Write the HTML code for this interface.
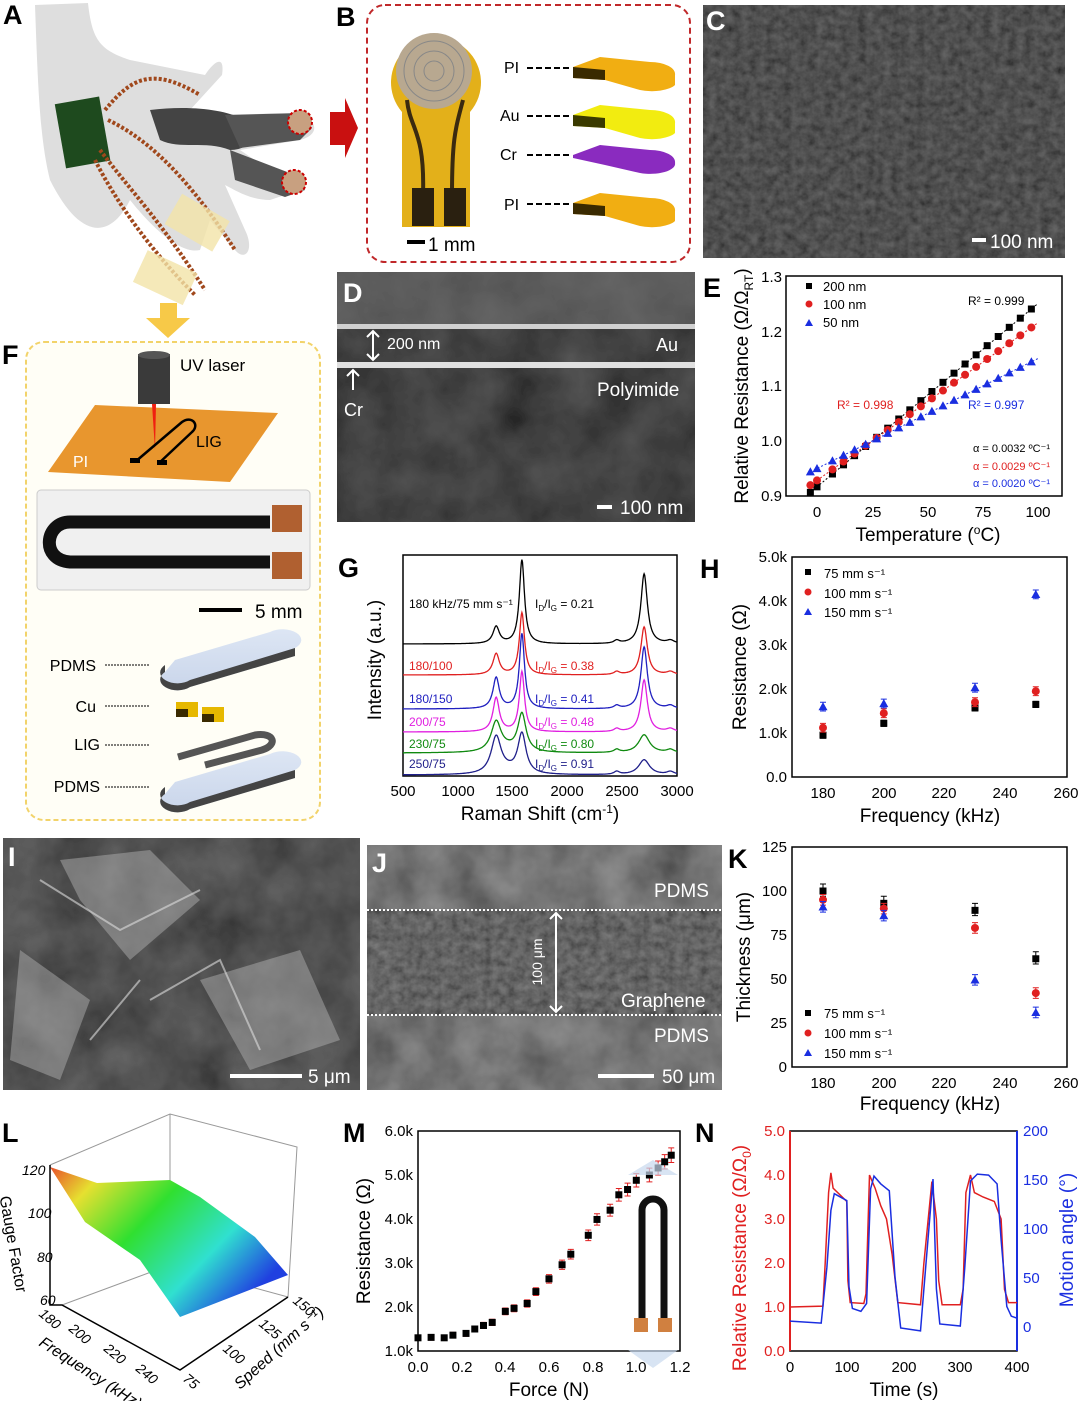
<!DOCTYPE html>
<html><head><meta charset="utf-8">
<style>
html,body{margin:0;padding:0;background:#fff;}
svg{display:block;font-family:"Liberation Sans",Arial,sans-serif;}
.pl{font-weight:bold;font-size:27px;fill:#000}
.tk{font-size:15px}
.al{font-size:19px}
</style></head><body>
<svg id="s" width="1080" height="1401" viewBox="0 0 1080 1401" xmlns="http://www.w3.org/2000/svg">
<defs>
<filter id="n1" x="0" y="0" width="100%" height="100%"><feTurbulence type="fractalNoise" baseFrequency="0.12" numOctaves="3" seed="3"/><feColorMatrix type="saturate" values="0"/><feComponentTransfer><feFuncA type="linear" slope="0" intercept="1"/></feComponentTransfer><feBlend in2="SourceGraphic" mode="multiply"/></filter>
<filter id="n2" x="0" y="0" width="100%" height="100%"><feTurbulence type="fractalNoise" baseFrequency="0.02" numOctaves="4" seed="7"/><feColorMatrix type="saturate" values="0"/><feComponentTransfer><feFuncA type="linear" slope="0" intercept="1"/></feComponentTransfer><feBlend in2="SourceGraphic" mode="multiply"/></filter>
<linearGradient id="gs" x1="0" y1="0" x2="1" y2="0.6"><stop offset="0" stop-color="#e8502a"/><stop offset="0.18" stop-color="#e6e030"/><stop offset="0.45" stop-color="#30e030"/><stop offset="0.75" stop-color="#30e0d0"/><stop offset="1" stop-color="#2040e0"/></linearGradient>
<linearGradient id="pd" x1="0" y1="0" x2="0" y2="1"><stop offset="0" stop-color="#dde6f4"/><stop offset="1" stop-color="#c9d5ea"/></linearGradient>
</defs>

<!-- Panel A -->
<text class="pl" x="3" y="24">A</text>
<path d="M35,5 L88,3 C92,40 100,50 130,60 L205,75 C215,60 225,55 222,75 L190,110 C220,120 270,110 300,115 C318,120 320,135 300,140 L240,150 C270,170 290,185 285,195 L270,200 C250,200 235,190 225,185 L245,230 C255,250 245,262 235,250 L210,220 L200,250 C180,255 150,225 130,200 C110,240 80,240 50,180 C40,140 38,90 35,5Z" fill="#dedede"/>
<path d="M150,110 C190,105 225,110 240,118 C260,135 250,150 230,150 C205,140 180,150 160,140Z" fill="#444"/>
<path d="M225,115 L300,113 L312,128 L300,140 L240,148Z" fill="#555"/>
<path d="M230,150 L295,175 L305,190 L285,197 L235,180Z" fill="#555"/>
<rect x="60" y="100" width="45" height="65" fill="#1e4a1e" transform="rotate(-10 82 132)"/>
<path d="M105,110 C130,80 150,65 200,95 M108,120 C150,140 190,180 235,250 M100,150 C130,190 160,220 205,290 M95,160 C115,200 150,250 195,295" stroke="#a0481c" stroke-width="4" fill="none" stroke-dasharray="3 2"/>
<rect x="170" y="205" width="55" height="35" fill="#f3e4a8" opacity="0.8" transform="rotate(30 197 222)"/>
<rect x="138" y="260" width="55" height="35" fill="#f3e4a8" opacity="0.8" transform="rotate(25 165 277)"/>
<circle cx="300" cy="122" r="12" fill="#c8a080" stroke="#c00" stroke-width="2" stroke-dasharray="3 2"/>
<circle cx="294" cy="182" r="12" fill="#c8a080" stroke="#c00" stroke-width="2" stroke-dasharray="3 2"/>
<path d="M330,112 L345,112 L345,98 L358,128 L345,158 L345,145 L330,145Z" fill="#c91010"/>
<path d="M160,303 L177,303 L177,318 L190,318 L168,338 L146,318 L160,318Z" fill="#f7c948"/>

<!-- Panel B -->
<text class="pl" x="336" y="26">B</text>
<rect x="367" y="5" width="323" height="257" rx="18" fill="none" stroke="#c0282a" stroke-width="2" stroke-dasharray="6 4"/>
<path d="M402,227 L402,112 A45,45 0 1 1 470,112 L470,227Z" fill="#e3b01a"/>
<circle cx="434" cy="71" r="38" fill="#b8a890"/>
<circle cx="434" cy="71" r="30" fill="none" stroke="#888" stroke-width="1"/><circle cx="434" cy="71" r="20" fill="none" stroke="#888"/><circle cx="434" cy="71" r="10" fill="none" stroke="#888"/>
<path d="M407,100 C410,130 425,130 423,195 M463,100 C455,130 452,140 452,195" stroke="#3a2a10" stroke-width="4" fill="none"/>
<rect x="412" y="188" width="22" height="38" fill="#2a2010"/><rect x="444" y="188" width="22" height="38" fill="#2a2010"/>
<rect x="407" y="240" width="18" height="4" fill="#000"/><text x="428" y="251" font-size="19">1 mm</text>
<g font-size="16"><text x="504" y="73">PI</text><text x="500" y="121">Au</text><text x="500" y="160">Cr</text><text x="504" y="210">PI</text></g>
<g stroke="#000" stroke-width="2" stroke-dasharray="6 3"><line x1="527" y1="68" x2="572" y2="68"/><line x1="527" y1="116" x2="572" y2="116"/><line x1="527" y1="155" x2="572" y2="155"/><line x1="527" y1="204" x2="572" y2="204"/></g>
<g>
<path d="M573,67 L600,57 L650,62 A25,12 0 0 1 675,75 L675,85 A25,10 0 0 1 640,90 L605,80 L573,78Z" fill="#f1ae12"/><path d="M573,67 L605,70 L605,80 L573,78Z" fill="#3a2a00"/>
<path d="M573,115 L600,105 L650,110 A25,12 0 0 1 675,123 L675,133 A25,10 0 0 1 640,138 L605,128 L573,126Z" fill="#f2ec10"/><path d="M573,115 L605,118 L605,128 L573,126Z" fill="#3a3a00"/>
<path d="M573,155 L600,145 L650,150 A25,12 0 0 1 675,163 A25,10 0 0 1 640,173 L605,165 L573,158Z" fill="#8a2bbf"/>
<path d="M573,203 L600,193 L650,198 A25,12 0 0 1 675,211 L675,221 A25,10 0 0 1 640,226 L605,216 L573,214Z" fill="#f1ae12"/><path d="M573,203 L605,206 L605,216 L573,214Z" fill="#3a2a00"/>
</g>

<!-- Panel C -->
<rect x="703" y="5" width="362" height="253" fill="#6e6e6e" filter="url(#n1)"/>
<text class="pl" x="706" y="30" style="fill:#fff">C</text>
<rect x="972" y="238" width="14" height="4" fill="#fff"/><text x="990" y="248" font-size="19" fill="#fff">100 nm</text>

<!-- Panel D -->
<rect x="337" y="272" width="358" height="250" fill="#5c5c5c" filter="url(#n2)"/>
<rect x="337" y="272" width="358" height="52" fill="#777" opacity="0.5"/>
<rect x="337" y="324" width="358" height="5" fill="#d0d0d0"/>
<rect x="337" y="362" width="358" height="6" fill="#e0e0e0"/>
<text class="pl" x="343" y="302" style="fill:#fff">D</text>
<path d="M373,331 L373,360 M367,337 L373,331 L379,337 M367,354 L373,360 L379,354" stroke="#fff" stroke-width="2" fill="none"/>
<text x="387" y="349" font-size="16" fill="#fff">200 nm</text>
<text x="656" y="351" font-size="18" fill="#fff">Au</text>
<text x="597" y="396" font-size="19" fill="#fff">Polyimide</text>
<path d="M353,390 L353,370 M347,376 L353,370 L359,376" stroke="#fff" stroke-width="2" fill="none"/>
<text x="344" y="416" font-size="18" fill="#fff">Cr</text>
<rect x="597" y="505" width="15" height="4" fill="#fff"/><text x="620" y="514" font-size="19" fill="#fff">100 nm</text>

<!-- Panel E -->
<text class="pl" x="703" y="297">E</text>
<rect x="786" y="276" width="276" height="220" fill="none" stroke="#000" stroke-width="1.5"/>
<g id="E"></g>
<g class="tk" text-anchor="end"><text x="782" y="282">1.3</text><text x="782" y="337">1.2</text><text x="782" y="391">1.1</text><text x="782" y="446">1.0</text><text x="782" y="501">0.9</text></g>
<g class="tk" text-anchor="middle"><text x="817" y="517">0</text><text x="873" y="517">25</text><text x="928" y="517">50</text><text x="983" y="517">75</text><text x="1038" y="517">100</text></g>
<text class="al" x="928" y="541" text-anchor="middle">Temperature (<tspan font-size="12" dy="-7">o</tspan><tspan dy="7">C)</tspan></text>
<text class="al" transform="translate(748,386) rotate(-90)" text-anchor="middle">Relative Resistance (Ω/Ω<tspan font-size="12" dy="5">RT</tspan><tspan dy="-5">)</tspan></text>
<g font-size="13"><rect x="806" y="283" width="6" height="6"/><text x="823" y="291">200 nm</text>
<circle cx="809" cy="304" r="3.5" fill="#e02020"/><text x="823" y="309">100 nm</text>
<path d="M805,326 L809,319 L813,326Z" fill="#1a2ee0"/><text x="823" y="327">50 nm</text>
<text x="968" y="305" font-size="12">R² = 0.999</text>
<text x="837" y="409" font-size="12" fill="#e02020">R² = 0.998</text>
<text x="968" y="409" font-size="12" fill="#1a2ee0">R² = 0.997</text>
<text x="973" y="452" font-size="11">α = 0.0032 ºC⁻¹</text>
<text x="973" y="470" font-size="11" fill="#e02020">α = 0.0029 ºC⁻¹</text>
<text x="973" y="487" font-size="11" fill="#1a2ee0">α = 0.0020 ºC⁻¹</text></g>

<!-- Panel F -->
<text class="pl" x="2" y="364">F</text>
<rect x="26" y="342" width="294" height="478" rx="18" fill="#fffef6" stroke="#f2d36a" stroke-width="2" stroke-dasharray="5 3"/>
<path d="M48,472 L95,405 L278,413 L230,482Z" fill="#e8962e"/>
<rect x="138" y="354" width="32" height="50" fill="#3a3a3a"/><ellipse cx="154" cy="355" rx="16" ry="4" fill="#555"/>
<path d="M152,404 L156,404 L155,450Z" fill="#f02010"/>
<path d="M135,462 L182,422 C192,415 200,425 192,432 L158,464" stroke="#000" stroke-width="2.5" fill="none"/>
<rect x="130" y="458" width="10" height="5"/><rect x="157" y="460" width="10" height="5"/>
<text x="180" y="371" font-size="17">UV laser</text>
<text x="196" y="447" font-size="16">LIG</text>
<text x="73" y="467" font-size="16" fill="#fff">PI</text>
<rect x="37" y="490" width="273" height="100" rx="4" fill="#f0f0f0" stroke="#ccc"/>
<path d="M270,522 L70,522 C45,522 40,560 70,562 L270,562" stroke="#111" stroke-width="13" fill="none"/>
<rect x="272" y="505" width="30" height="27" fill="#b06030"/><rect x="272" y="552" width="30" height="27" fill="#b06030"/>
<rect x="199" y="608" width="43" height="4"/><text x="255" y="618" font-size="19">5 mm</text>
<g font-size="16" text-anchor="end"><text x="96" y="671">PDMS</text><text x="96" y="712">Cu</text><text x="100" y="750">LIG</text><text x="100" y="792">PDMS</text></g>
<g stroke="#000" stroke-width="1" stroke-dasharray="2 1"><line x1="105" y1="665" x2="150" y2="665"/><line x1="105" y1="706" x2="150" y2="706"/><line x1="105" y1="745" x2="150" y2="745"/><line x1="105" y1="787" x2="150" y2="787"/></g>
<path d="M175,660 L270,632 A14,8 0 0 1 295,648 L295,656 L190,687 A16,10 0 0 1 165,672 Z" fill="url(#pd)"/><path d="M165,672 A16,10 0 0 0 190,687 L295,656 L295,648 L190,680 A16,10 0 0 1 165,665Z" fill="#444"/>
<path d="M175,782 L270,754 A14,8 0 0 1 295,770 L295,778 L190,809 A16,10 0 0 1 165,794 Z" fill="url(#pd)"/><path d="M165,794 A16,10 0 0 0 190,809 L295,778 L295,770 L190,802 A16,10 0 0 1 165,787Z" fill="#444"/>
<rect x="176" y="702" width="22" height="15" fill="#e6b800"/><rect x="176" y="709" width="12" height="8" fill="#3a2a00"/>
<rect x="202" y="707" width="22" height="15" fill="#e6b800"/><rect x="202" y="714" width="12" height="8" fill="#3a2a00"/>
<path d="M178,757 L255,735 C275,732 278,745 262,750 L205,765" stroke="#555" stroke-width="7" fill="none"/>

<!-- Panel G -->
<text class="pl" x="338" y="577">G</text>
<rect x="403" y="555" width="274" height="221" fill="none" stroke="#000" stroke-width="1.5"/>
<g id="G"></g>
<g class="tk" text-anchor="middle"><text x="403" y="796">500</text><text x="458" y="796">1000</text><text x="512" y="796">1500</text><text x="567" y="796">2000</text><text x="622" y="796">2500</text><text x="677" y="796">3000</text></g>
<text class="al" x="540" y="820" text-anchor="middle">Raman Shift (cm<tspan font-size="12" dy="-7">-1</tspan><tspan dy="7">)</tspan></text>
<text class="al" transform="translate(381,660) rotate(-90)" text-anchor="middle">Intensity (a.u.)</text>
<g font-size="12"><text x="409" y="608">180 kHz/75 mm s⁻¹</text><text x="535" y="608">I<tspan font-size="8" dy="3">D</tspan><tspan dy="-3">/I</tspan><tspan font-size="8" dy="3">G</tspan><tspan dy="-3"> = 0.21</tspan></text>
<g fill="#e02020"><text x="409" y="670">180/100</text><text x="535" y="670">I<tspan font-size="8" dy="3">D</tspan><tspan dy="-3">/I</tspan><tspan font-size="8" dy="3">G</tspan><tspan dy="-3"> = 0.38</tspan></text></g>
<g fill="#2020c0"><text x="409" y="703">180/150</text><text x="535" y="703">I<tspan font-size="8" dy="3">D</tspan><tspan dy="-3">/I</tspan><tspan font-size="8" dy="3">G</tspan><tspan dy="-3"> = 0.41</tspan></text></g>
<g fill="#e020e0"><text x="409" y="726">200/75</text><text x="535" y="726">I<tspan font-size="8" dy="3">D</tspan><tspan dy="-3">/I</tspan><tspan font-size="8" dy="3">G</tspan><tspan dy="-3"> = 0.48</tspan></text></g>
<g fill="#108a10"><text x="409" y="748">230/75</text><text x="535" y="748">I<tspan font-size="8" dy="3">D</tspan><tspan dy="-3">/I</tspan><tspan font-size="8" dy="3">G</tspan><tspan dy="-3"> = 0.80</tspan></text></g>
<g fill="#20208a"><text x="409" y="768">250/75</text><text x="535" y="768">I<tspan font-size="8" dy="3">D</tspan><tspan dy="-3">/I</tspan><tspan font-size="8" dy="3">G</tspan><tspan dy="-3"> = 0.91</tspan></text></g></g>

<!-- Panel H -->
<text class="pl" x="700" y="578">H</text>
<rect x="792" y="557" width="275" height="220" fill="none" stroke="#000" stroke-width="1.5"/>
<g id="H"></g>
<g class="tk" text-anchor="end"><text x="787" y="562">5.0k</text><text x="787" y="606">4.0k</text><text x="787" y="650">3.0k</text><text x="787" y="694">2.0k</text><text x="787" y="738">1.0k</text><text x="787" y="782">0.0</text></g>
<g class="tk" text-anchor="middle"><text x="823" y="798">180</text><text x="884" y="798">200</text><text x="944" y="798">220</text><text x="1005" y="798">240</text><text x="1066" y="798">260</text></g>
<text class="al" x="930" y="822" text-anchor="middle">Frequency (kHz)</text>
<text class="al" transform="translate(746,667) rotate(-90)" text-anchor="middle">Resistance (Ω)</text>
<g font-size="13"><rect x="805" y="569" width="6" height="6"/><text x="824" y="578">75 mm s⁻¹</text><circle cx="808" cy="592" r="3.5" fill="#e02020"/><text x="824" y="598">100 mm s⁻¹</text><path d="M804,615 L808,608 L812,615Z" fill="#1a2ee0"/><text x="824" y="617">150 mm s⁻¹</text></g>

<!-- Panel I -->
<rect x="3" y="838" width="357" height="252" fill="#707070" filter="url(#n2)"/>
<path d="M60,860 L150,850 L200,900 L130,960 L80,900Z M200,980 L300,950 L340,1040 L250,1070Z M20,950 L90,1000 L60,1080 L10,1060Z" fill="#b8b8b8" opacity="0.45"/>
<path d="M40,880 L120,930 L200,890 M150,1000 L220,960 L260,1050 M90,1040 L140,980" stroke="#ddd" stroke-width="2" fill="none" opacity="0.6"/>
<text class="pl" x="8" y="866" style="fill:#fff">I</text>
<rect x="230" y="1074" width="72" height="4" fill="#fff"/><text x="308" y="1083" font-size="19" fill="#fff">5 μm</text>

<!-- Panel J -->
<rect x="367" y="845" width="355" height="245" fill="#a0a0a0" filter="url(#n2)"/>
<rect x="367" y="910" width="355" height="105" fill="#888" filter="url(#n1)" opacity="0.9"/>
<line x1="367" y1="910" x2="722" y2="910" stroke="#fff" stroke-width="2" stroke-dasharray="2 2"/>
<line x1="367" y1="1015" x2="722" y2="1015" stroke="#fff" stroke-width="2" stroke-dasharray="2 2"/>
<text class="pl" x="372" y="872" style="fill:#fff">J</text>
<text x="654" y="897" font-size="19" fill="#fff">PDMS</text><text x="621" y="1007" font-size="19" fill="#fff">Graphene</text><text x="654" y="1042" font-size="19" fill="#fff">PDMS</text>
<path d="M556,913 L556,1012 M550,919 L556,913 L562,919 M550,1006 L556,1012 L562,1006" stroke="#fff" stroke-width="2" fill="none"/>
<text transform="translate(542,962) rotate(-90)" text-anchor="middle" font-size="14" fill="#fff">100 μm</text>
<rect x="598" y="1074" width="56" height="4" fill="#fff"/><text x="662" y="1083" font-size="19" fill="#fff">50 μm</text>

<!-- Panel K -->
<text class="pl" x="728" y="868">K</text>
<rect x="792" y="847" width="275" height="220" fill="none" stroke="#000" stroke-width="1.5"/>
<g id="K"></g>
<g class="tk" text-anchor="end"><text x="787" y="852">125</text><text x="787" y="896">100</text><text x="787" y="940">75</text><text x="787" y="984">50</text><text x="787" y="1028">25</text><text x="787" y="1072">0</text></g>
<g class="tk" text-anchor="middle"><text x="823" y="1088">180</text><text x="884" y="1088">200</text><text x="944" y="1088">220</text><text x="1005" y="1088">240</text><text x="1066" y="1088">260</text></g>
<text class="al" x="930" y="1110" text-anchor="middle">Frequency (kHz)</text>
<text class="al" transform="translate(750,957) rotate(-90)" text-anchor="middle">Thickness (μm)</text>
<g font-size="13"><rect x="805" y="1010" width="6" height="6"/><text x="824" y="1018">75 mm s⁻¹</text><circle cx="808" cy="1033" r="3.5" fill="#e02020"/><text x="824" y="1038">100 mm s⁻¹</text><path d="M804,1056 L808,1049 L812,1056Z" fill="#1a2ee0"/><text x="824" y="1058">150 mm s⁻¹</text></g>

<!-- Panel L -->
<text class="pl" x="2" y="1142">L</text>
<g stroke="#999" stroke-width="1" fill="none"><path d="M50,1165 L170,1114 L297,1147 L288,1297 M170,1114 L170,1265 L288,1297 M170,1265 L62,1305"/></g>
<path d="M50,1167 L97,1183 L170,1180 L200,1197 L255,1237 L288,1275 L180,1317 L140,1260 L85,1222Z" fill="url(#gs)"/>
<path d="M50,1165 L50,1305 L62,1305 L180,1370 L288,1297" stroke="#000" stroke-width="1.5" fill="none"/>
<g font-size="14" font-style="italic"><text x="22" y="1175">120</text><text x="28" y="1218">100</text><text x="37" y="1262">80</text><text x="40" y="1305">60</text></g>
<text transform="translate(8,1245) rotate(80)" text-anchor="middle" font-size="16">Gauge Factor</text>
<g font-size="14" font-style="italic"><text transform="translate(38,1315) rotate(40)">180</text><text transform="translate(68,1330) rotate(40)">200</text><text transform="translate(103,1350) rotate(40)">220</text><text transform="translate(135,1370) rotate(40)">240</text></g>
<text transform="translate(38,1345) rotate(33)" font-size="16" font-style="italic">Frequency (kHz)</text>
<g font-size="14" font-style="italic"><text transform="translate(182,1380) rotate(40)">75</text><text transform="translate(222,1350) rotate(40)">100</text><text transform="translate(258,1325) rotate(40)">125</text><text transform="translate(292,1302) rotate(40)">150</text></g>
<text transform="translate(240,1390) rotate(-42)" font-size="16" font-style="italic">Speed (mm s⁻¹)</text>

<!-- Panel M -->
<text class="pl" x="343" y="1142">M</text>
<rect x="418" y="1131" width="262" height="220" fill="none" stroke="#000" stroke-width="1.5"/>
<g id="M"></g>
<path d="M628,1175 L653,1160 L678,1175Z M628,1350 L653,1368 L678,1350Z" fill="#c8d8ee" opacity="0.7"/>
<path d="M642,1320 L642,1210 A11,11 0 0 1 664,1210 L664,1320" stroke="#111" stroke-width="7" fill="none"/>
<rect x="634" y="1318" width="14" height="14" fill="#d08040"/><rect x="658" y="1318" width="14" height="14" fill="#d08040"/>
<g class="tk" text-anchor="end"><text x="413" y="1136">6.0k</text><text x="413" y="1180">5.0k</text><text x="413" y="1224">4.0k</text><text x="413" y="1268">3.0k</text><text x="413" y="1312">2.0k</text><text x="413" y="1356">1.0k</text></g>
<g class="tk" text-anchor="middle"><text x="418" y="1372">0.0</text><text x="462" y="1372">0.2</text><text x="505" y="1372">0.4</text><text x="549" y="1372">0.6</text><text x="593" y="1372">0.8</text><text x="636" y="1372">1.0</text><text x="680" y="1372">1.2</text></g>
<text class="al" x="549" y="1396" text-anchor="middle">Force (N)</text>
<text class="al" transform="translate(370,1241) rotate(-90)" text-anchor="middle">Resistance (Ω)</text>

<!-- Panel N -->
<text class="pl" x="695" y="1142">N</text>
<rect x="790" y="1131" width="227" height="220" fill="none" stroke="#000" stroke-width="1.5"/>
<line x1="790" y1="1131" x2="790" y2="1351" stroke="#e02020" stroke-width="2"/>
<line x1="1017" y1="1131" x2="1017" y2="1351" stroke="#1a2ee0" stroke-width="2"/>
<g id="N"></g>
<g class="tk" text-anchor="end" fill="#e02020"><text x="785" y="1136">5.0</text><text x="785" y="1180">4.0</text><text x="785" y="1224">3.0</text><text x="785" y="1268">2.0</text><text x="785" y="1312">1.0</text><text x="785" y="1356">0.0</text></g>
<g class="tk" fill="#1a2ee0"><text x="1023" y="1136">200</text><text x="1023" y="1185">150</text><text x="1023" y="1234">100</text><text x="1023" y="1283">50</text><text x="1023" y="1332">0</text></g>
<g class="tk" text-anchor="middle"><text x="790" y="1372">0</text><text x="847" y="1372">100</text><text x="904" y="1372">200</text><text x="960" y="1372">300</text><text x="1017" y="1372">400</text></g>
<text class="al" x="904" y="1396" text-anchor="middle">Time (s)</text>
<text class="al" transform="translate(746,1258) rotate(-90)" text-anchor="middle" fill="#e02020">Relative Resistance (Ω/Ω<tspan font-size="12" dy="5">0</tspan><tspan dy="-5">)</tspan></text>
<text class="al" transform="translate(1073,1240) rotate(-90)" text-anchor="middle" fill="#1a2ee0">Motion angle (°)</text>
</svg>
<script>
var NS="http://www.w3.org/2000/svg";
function el(g,t,a){var e=document.createElementNS(NS,t);for(var k in a)e.setAttribute(k,a[k]);document.getElementById(g).appendChild(e);return e;}
function sq(g,x,y,s,c){el(g,"rect",{x:x-s,y:y-s,width:2*s,height:2*s,fill:c});}
function ci(g,x,y,r,c){el(g,"circle",{cx:x,cy:y,r:r,fill:c});}
function tr(g,x,y,s,c){el(g,"path",{d:"M"+(x-s)+","+(y+s*0.8)+"L"+x+","+(y-s)+"L"+(x+s)+","+(y+s*0.8)+"Z",fill:c});}
function eb(g,x,y1,y2,c){el(g,"path",{d:"M"+x+","+y1+"V"+y2+"M"+(x-3)+","+y1+"H"+(x+3)+"M"+(x-3)+","+y2+"H"+(x+3),stroke:c,"stroke-width":1,fill:"none"});}
// E
(function(){var X=function(t){return 817+t*2.21},Y=function(v){return 496-(v-0.9)*550};
var S=[[0.92,1.25,"#000"],[0.924,1.215,"#e02020"],[0.94,1.15,"#1a2ee0"]];
S.forEach(function(s,i){var a=(s[1]-1)/75;el("E","line",{x1:X(-3),y1:Y(1+a*(-3-25)),x2:X(100),y2:Y(s[1]),stroke:s[2],"stroke-width":1,"stroke-dasharray":"2 2"});
for(var t=-3;t<=100;t+=5){var tt=t<0?-3:t;if(t==2)tt=0;var v=1+a*(tt-25);if(i==0)sq("E",X(tt),Y(v),3.5,s[2]);else if(i==1)ci("E",X(tt),Y(v),4,s[2]);else tr("E",X(tt),Y(v),4.5,s[2]);}});
})();
// G
(function(){var X=function(w){return 403+(w-500)*274/2500};
var C=[["#000",644,17,84,70,2],["#e02020",675,21,62,48,3],["#2020c0",709,31,75,62,3],["#e020e0",732,34,60,52,3],["#108a10",753,30,38,18,5],["#20208a",775,37,40,15,5]];
C.forEach(function(c,i){var d="";var wd=i>=4?55:35;for(var w=500;w<=3000;w+=5){var L=function(p,h,g){return h/(1+Math.pow((w-p)/g,2));};
var v=L(1350,c[2],wd)+L(1585,c[3],i>=4?45:28)+L(2700,c[4],i>=4?60:35)+L(2450,3,30)+L(2940,3,40)+(i>=4?L(1450,3,100):0);
d+=(w==500?"M":"L")+X(w).toFixed(1)+","+(c[1]-v).toFixed(1);}el("G","path",{d:d,stroke:c[0],"stroke-width":1.3,fill:"none"});});
})();
// H
(function(){var X=function(f){return 823+(f-180)*3.04},Y=function(v){return 777-v*44};
var F=[180,200,230,250],B=[0.95,1.22,1.57,1.65],R=[1.12,1.45,1.7,1.95],U=[1.6,1.67,2.03,4.15];
F.forEach(function(f,i){eb("H",X(f),Y(B[i]+0.07),Y(B[i]-0.07),"#000");sq("H",X(f),Y(B[i]),3.5,"#000");
eb("H",X(f),Y(R[i]+0.1),Y(R[i]-0.1),"#e02020");ci("H",X(f),Y(R[i]),4,"#e02020");
eb("H",X(f),Y(U[i]+0.1),Y(U[i]-0.1),"#1a2ee0");tr("H",X(f),Y(U[i]),4.5,"#1a2ee0");});
})();
// K
(function(){var X=function(f){return 823+(f-180)*3.04},Y=function(v){return 1067-v*1.76};
var F=[180,200,230,250],B=[100,93,89,61.5],R=[95,90,79,42],U=[91,86,49.5,31];
F.forEach(function(f,i){eb("K",X(f),Y(B[i]+4),Y(B[i]-3),"#000");sq("K",X(f),Y(B[i]),3.5,"#000");
eb("K",X(f),Y(R[i]+3),Y(R[i]-3),"#e02020");ci("K",X(f),Y(R[i]),4,"#e02020");
eb("K",X(f),Y(U[i]+3),Y(U[i]-3),"#1a2ee0");tr("K",X(f),Y(U[i]),4.5,"#1a2ee0");});
})();
// M
(function(){var X=function(f){return 418+f*218.3},Y=function(v){return 1351-(v-1)*44};
var P=[[0,1.3],[0.06,1.31],[0.12,1.3],[0.16,1.36],[0.22,1.4],[0.26,1.5],[0.3,1.58],[0.34,1.65],[0.4,1.9],[0.44,1.97],[0.5,2.08],[0.54,2.35],[0.6,2.64],[0.66,2.96],[0.7,3.2],[0.78,3.63],[0.82,3.99],[0.88,4.2],[0.92,4.55],[0.96,4.67],[1.0,4.88],[1.06,5.0],[1.1,5.16],[1.13,5.3],[1.16,5.45]];
P.forEach(function(p){var e=0.03+p[1]*0.025;eb("M",X(p[0]),Y(p[1]+e),Y(p[1]-e),"#e02020");sq("M",X(p[0]),Y(p[1]),3.5,"#000");});
})();
// N
(function(){var X=function(t){return 790+t*0.5675},YR=function(v){return 1351-v*44},YB=function(a){return 1327-a*0.98};
var R=[[0,1],[58,1.02],[62,2],[68,3.6],[72,4.05],[76,3.7],[100,3.4],[102,1.6],[106,1.1],[130,1.08],[134,1.3],[140,4.0],[150,3.7],[160,3.3],[170,3.0],[180,2.2],[190,1.1],[230,1.05],[236,2.0],[250,3.85],[258,3.0],[262,1.6],[268,1.05],[300,1.05],[305,1.4],[310,3.6],[318,4.0],[325,3.6],[340,3.5],[360,3.4],[372,3.0],[378,1.4],[385,1.1],[400,1.1]];
var B=[[0,5],[55,5],[65,60],[72,120],[78,135],[100,130],[104,40],[110,20],[125,15],[135,25],[142,140],[148,155],[160,145],[175,140],[185,50],[195,0],[230,-5],[236,40],[252,150],[258,40],[264,2],[300,2],[308,60],[318,150],[330,155],[350,156],[365,145],[372,90],[382,20],[390,12],[400,8]];
var d="";R.forEach(function(p,i){d+=(i?"L":"M")+X(p[0]).toFixed(1)+","+YR(p[1]).toFixed(1);});el("N","path",{d:d,stroke:"#e02020","stroke-width":1.5,fill:"none"});
d="";B.forEach(function(p,i){d+=(i?"L":"M")+X(p[0]).toFixed(1)+","+(YB(p[1])+(i%2?1:-1)).toFixed(1);});el("N","path",{d:d,stroke:"#1a2ee0","stroke-width":1.5,fill:"none"});
})();
</script>
</body></html>
